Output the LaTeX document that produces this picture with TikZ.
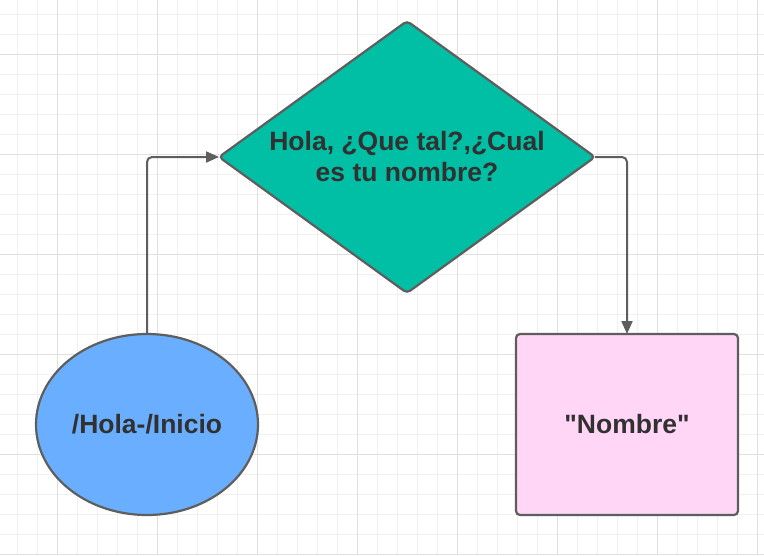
\documentclass[tikz,border=0pt]{standalone}
\usepackage{fontspec}
\setmainfont{Liberation Sans}
\usepackage{tikz}
\usetikzlibrary{shapes.geometric,arrows.meta}

\definecolor{gridminor}{HTML}{F0F0F0}
\definecolor{gridmajor}{HTML}{E0E0E0}
\definecolor{linec}{HTML}{5E5E5E}
\definecolor{textc}{HTML}{313131}
\definecolor{inicioc}{HTML}{6AAFFF}
\definecolor{preguntac}{HTML}{00BFA5}
\definecolor{nombrec}{HTML}{FFD6F5}

\tikzset{
  shapebox/.style={draw=linec,line width=2.2pt,inner sep=0pt,outer sep=0pt,
    text=textc,font=\fontsize{26.5}{31}\selectfont\bfseries,align=center},
  flecha/.style={draw=linec,line width=2pt,rounded corners=5pt,
    -{Triangle[length=13pt,width=11pt]}}
}

\begin{document}
\begin{tikzpicture}[x=1pt,y=-1pt]

  \useasboundingbox (0,0) rectangle (764,555);
  \fill[white] (0,0) rectangle (764,555);

  % draw the grid
  \foreach \x in {17,37,...,757} \draw[gridminor,line width=0.9pt] (\x,0) -- (\x,555);
  \foreach \y in {14,34,...,554} \draw[gridminor,line width=0.9pt] (0,\y) -- (764,\y);
  \foreach \x in {57,157,...,757} \draw[gridmajor,line width=1pt] (\x,0) -- (\x,555);
  \foreach \y in {54,154,...,554} \draw[gridmajor,line width=1pt] (0,\y) -- (764,\y);

  % the three shapes
  \node[shapebox,ellipse,fill=inicioc,minimum width=222pt,minimum height=181pt]
    (inicio) at (147,424.5) {/Hola-/Inicio};
  \node[shapebox,diamond,aspect=1.38,rounded corners=4pt,fill=preguntac,
    minimum width=376pt,minimum height=272pt]
    (pregunta) at (407,157) {Hola, ¿Que tal?,¿Cual\\es tu nombre?};
  \node[shapebox,rectangle,rounded corners=4pt,fill=nombrec,
    minimum width=222pt,minimum height=181pt]
    (nombre) at (627,424.5) {\textquotedbl Nombre\textquotedbl};

  % connectors
  \draw[flecha] (inicio.north) |- (pregunta.west);
  \draw[flecha] (pregunta.east) -| (nombre.north);

\end{tikzpicture}
\end{document}
